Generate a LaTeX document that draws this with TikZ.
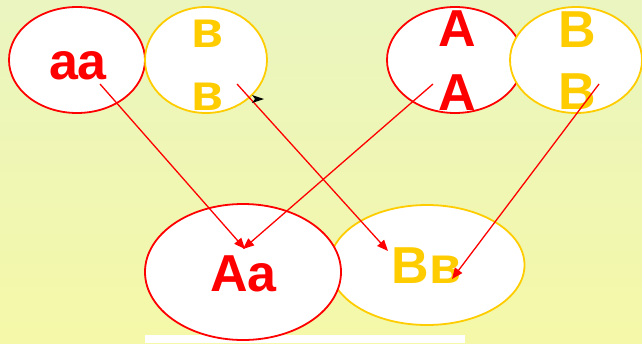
\documentclass[tikz,border=0pt]{standalone}
\usepackage{fontspec}
\setmainfont{Liberation Sans}
\usetikzlibrary{shapes.geometric,arrows.meta}
\definecolor{myred}{RGB}{255,0,0}
\definecolor{mygold}{RGB}{255,204,0}
\definecolor{bgtop}{RGB}{234,245,192}
\definecolor{bgbot}{RGB}{245,248,168}
\tikzset{
  ovred/.style={ellipse,draw=myred,fill=white,line width=1.8pt,inner sep=0pt},
  ovgold/.style={ellipse,draw=mygold,fill=white,line width=1.8pt,inner sep=0pt},
  lbl/.style={inner sep=0pt,font=\fontsize{52}{60}\selectfont\bfseries},
  conn/.style={draw=myred,line width=1.3pt,-{Triangle[length=11pt,width=9pt]}},
}
\begin{document}
\begin{tikzpicture}[x=1pt,y=-1pt]
\useasboundingbox (0,0) rectangle (642,343);
\shade[top color=bgtop,bottom color=bgbot] (0,0) rectangle (642,343);
\fill[white] (145,335) rectangle (465,343);
% top ellipses
\node[ovred,minimum width=136pt,minimum height=106pt] (eaa) at (77,60) {};
\node[ovgold,minimum width=122pt,minimum height=106pt] (ebb) at (206,60) {};
\node[ovred,minimum width=136pt,minimum height=106pt] (eAA) at (455,60) {};
\node[ovgold,minimum width=132pt,minimum height=106pt] (eBB) at (576,60) {};
% bottom ellipses
\node[ovgold,minimum width=195pt,minimum height=120pt] (eBb) at (427,265) {};
\node[ovred,minimum width=196pt,minimum height=136pt] (eAa) at (243,272) {};
% labels
\node[lbl,text=myred] (taa) at (78,66) {aa};
\node[lbl,text=mygold] (tb1) at (207,34) {в};
\node[lbl,text=mygold] (tb2) at (207,97) {в};
\node[lbl,text=myred] (tA1) at (457,29) {A};
\node[lbl,text=myred] (tA2) at (457,93) {A};
\node[lbl,text=mygold] (tB1) at (577,30) {B};
\node[lbl,text=mygold] (tB2) at (577,92) {B};
\node[lbl,text=myred] (tAa) at (243.5,274) {Aa};
\node[lbl,text=mygold] (tBb) at (426.5,266) {Вв};
% connector end points
\coordinate (s1) at (100,84);
\coordinate (s2) at (237,84);
\coordinate (s3) at (433,84);
\coordinate (s4) at (599,84);
\coordinate (d1) at (245,249);
\coordinate (d2) at (243,249);
\coordinate (d3) at (388,251);
\coordinate (d4) at (452,279);
\draw[conn] (s1) -- (d1);
\draw[conn] (s3) -- (d2);
\draw[conn] (s2) -- (d3);
\draw[conn] (s4) -- (d4);
% stray black arrowhead
\coordinate (bk) at (258,99);
\fill[black] (bk) ++(-6,-4) -- ++(12,4) -- ++(-12,4) -- ++(3,-4) -- cycle;
\end{tikzpicture}
\end{document}
